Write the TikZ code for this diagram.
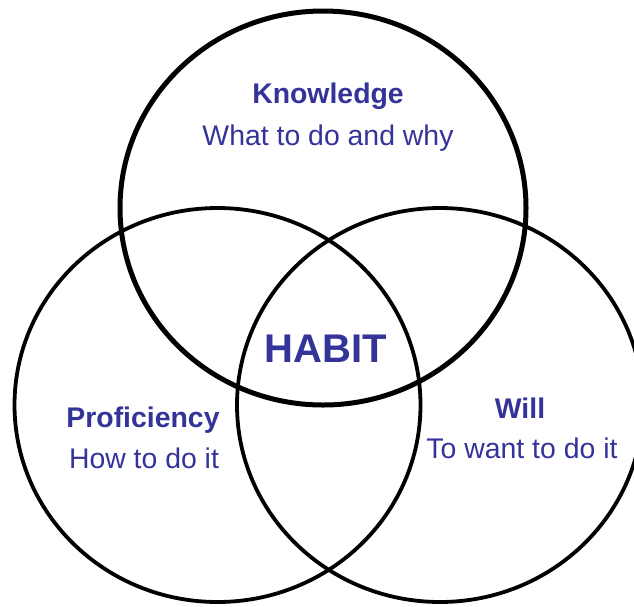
\documentclass[tikz,border=0pt]{standalone}
\usepackage{fontspec}
\setmainfont{Liberation Sans}
\definecolor{txtblue}{HTML}{333399}
\begin{document}
\begin{tikzpicture}[x=1pt,y=-1pt,
  ring/.style={draw=black,line width=3.8pt},
  topring/.style={draw=black,line width=5pt},
  head/.style={text=txtblue,font=\fontsize{28.4}{34}\selectfont\bfseries,anchor=base,inner sep=0pt},
  sub/.style={text=txtblue,font=\fontsize{28.4}{34}\selectfont,anchor=base,inner sep=0pt},
  big/.style={text=txtblue,font=\fontsize{40}{48}\selectfont\bfseries,anchor=base,inner sep=0pt}]
\useasboundingbox (0,0) rectangle (634,606);
\draw[ring] (217.5,405) ellipse [x radius=203, y radius=197];
\draw[ring] (440,405) ellipse [x radius=203, y radius=197];
\draw[topring] (323,208) ellipse [x radius=203, y radius=197];
\node[head] (kh) at (328,103) {Knowledge};
\node[sub] (ks) at (328,145) {What to do and why};
\node[big] (habit) at (326,362) {HABIT};
\node[head] (ph) at (143,427) {Proficiency};
\node[sub] (ps) at (144,468) {How to do it};
\node[head] (wh) at (520,418) {Will};
\node[sub] (ws) at (522,458) {To want to do it};
\end{tikzpicture}
\end{document}
